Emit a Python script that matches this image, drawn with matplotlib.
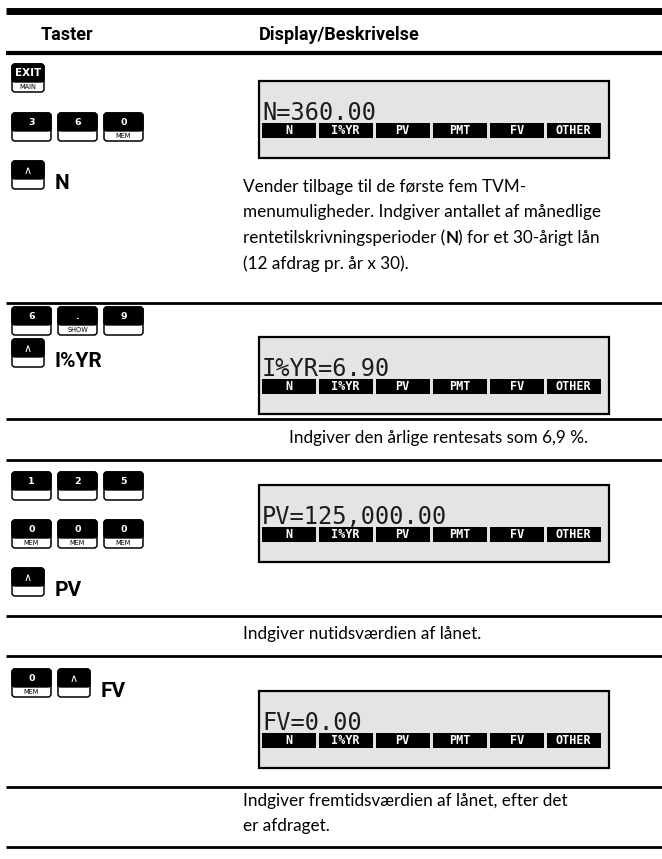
import matplotlib.pyplot as plt
from matplotlib.patches import Rectangle, FancyBboxPatch

# Tabel-indhold
header = ['Taster', 'Display/Beskrivelse']
menu_labels = ['N', 'I%YR', 'PV', 'PMT', 'FV', 'OTHER']
display_values = ['N=360.00', 'I%YR=6.90', 'PV=125,000.00', 'FV=0.00']

# Tastetryk: (række-top, [(øverste label, nederste label)], label efter tasterne)
key_steps = [
    (64, [('EXIT', 'MAIN')], ''),
    (113, [('3', ''), ('6', ''), ('0', 'MEM')], ''),
    (161, [('^', '')], 'N'),
    (307, [('6', ''), ('.', 'SHOW'), ('9', '')], ''),
    (339, [('^', '')], 'I%YR'),
    (472, [('1', ''), ('2', ''), ('5', '')], ''),
    (520, [('0', 'MEM'), ('0', 'MEM'), ('0', 'MEM')], ''),
    (568, [('^', '')], 'PV'),
    (669, [('0', 'MEM'), ('^', '')], 'FV'),
]

display_tops = [81, 337, 485, 691]

desc_1 = ['Vender tilbage til de første fem TVM-',
          'menumuligheder. Indgiver antallet af månedlige',
          ('rentetilskrivningsperioder (', 'N', ') for et 30-årigt lån'),
          '(12 afdrag pr. år x 30).']
desc_2 = ['Indgiver den årlige rentesats som 6,9 %.']
desc_3 = ['Indgiver nutidsværdien af lånet.']
desc_4 = ['Indgiver fremtidsværdien af lånet, efter det',
          'er afdraget.']
desc_blocks = [(187, 243, desc_1), (438, 289, desc_2), (634, 243, desc_3), (801, 243, desc_4)]

# vandrette streger: (y, tykkelse i pt)
rules = [(11, 5.0), (53, 3.0), (303, 2.0), (419, 2.0), (460, 2.0),
         (616, 2.0), (656, 2.0), (787, 2.0), (847, 2.0)]

W, H = 662, 859
fig = plt.figure(figsize=(W / 100, H / 100), dpi=100)
ax = fig.add_axes([0, 0, 1, 1])
ax.set_xlim(0, W)
ax.set_ylim(H, 0)
ax.axis('off')

body_font = ['Lato', 'DejaVu Sans']
bold_font = ['Roboto', 'DejaVu Sans']
lcd_font = ['DejaVu Sans Mono']
body_size = 12.3

# streger
for y, lw in rules:
    ax.plot([6, W], [y, y], color='black', lw=lw, solid_capstyle='butt')

# overskrifter
ax.text(67, 35, header[0], ha='center', va='center', fontsize=13,
        fontweight='bold', family=bold_font)
ax.text(339, 35, header[1], ha='center', va='center', fontsize=13,
        fontweight='bold', family=bold_font)


def draw_key(x, y, w, top, bottom):
    h = 28
    ax.add_patch(FancyBboxPatch((x, y), w, h, boxstyle='round,pad=0,rounding_size=3',
                                fc='white', ec='black', lw=1.1))
    ax.add_patch(FancyBboxPatch((x, y), w, h * 0.64, boxstyle='round,pad=0,rounding_size=3',
                                fc='black', ec='black', lw=1.1))
    ax.add_patch(Rectangle((x, y + h * 0.4), w, h * 0.24, fc='black', ec='none'))
    if top == '^':
        ax.text(x + w / 2, y + h * 0.34, '∧', ha='center', va='center', color='white',
                fontsize=8, family=['DejaVu Sans'])
    else:
        fs = 7.5 if top == 'EXIT' else 6.8
        ax.text(x + w / 2, y + h * 0.33, top, ha='center', va='center', color='white',
                fontsize=fs, fontweight='bold', family=['DejaVu Sans'])
    if bottom:
        ax.text(x + w / 2, y + h * 0.83, bottom, ha='center', va='center', color='black',
                fontsize=4.8, family=['DejaVu Sans'])


for y, keys, label in key_steps:
    x = 12
    for top, bottom in keys:
        w = 32 if top in ('^', 'EXIT') else 39
        draw_key(x, y, w, top, bottom)
        x += w + 7
    if label:
        ax.text(x + 4, y + 28, label, ha='left', va='baseline', fontsize=15,
                fontweight='bold', family=bold_font)

# displays
box_x0, box_x1 = 259, 609
seg_x0, seg_w, seg_gap = 262, 53.5, 3.5
for top, value in zip(display_tops, display_values):
    ax.add_patch(Rectangle((box_x0, top), box_x1 - box_x0, 77, fc='#e4e4e4',
                           ec='black', lw=1.6))
    ax.text(seg_x0, top + 39, value, ha='left', va='baseline', fontsize=17,
            color='#1c1c1c', family=lcd_font)
    for i, lab in enumerate(menu_labels):
        sx = seg_x0 + i * (seg_w + seg_gap)
        ax.add_patch(Rectangle((sx, top + 42), seg_w, 15, fc='black', ec='none'))
        ax.text(sx + seg_w / 2, top + 49.5, lab, ha='center', va='center', fontsize=8.5,
                fontweight='bold', color='white', family=lcd_font)

# beskrivelser
line_h = 25.5
for y0, x0, lines in desc_blocks:
    for i, line in enumerate(lines):
        y = y0 + i * line_h
        if isinstance(line, tuple):
            t = ax.text(x0, y, line[0], ha='left', va='center', fontsize=body_size,
                        family=body_font)
            t = ax.annotate(line[1], xy=(1, 0), xycoords=t, ha='left', va='bottom',
                            fontsize=body_size, fontweight='bold', family=body_font)
            ax.annotate(line[2], xy=(1, 0), xycoords=t, ha='left', va='bottom',
                        fontsize=body_size, family=body_font)
        else:
            ax.text(x0, y, line, ha='left', va='center', fontsize=body_size,
                    family=body_font)

fig.savefig('out.png', dpi=100)
